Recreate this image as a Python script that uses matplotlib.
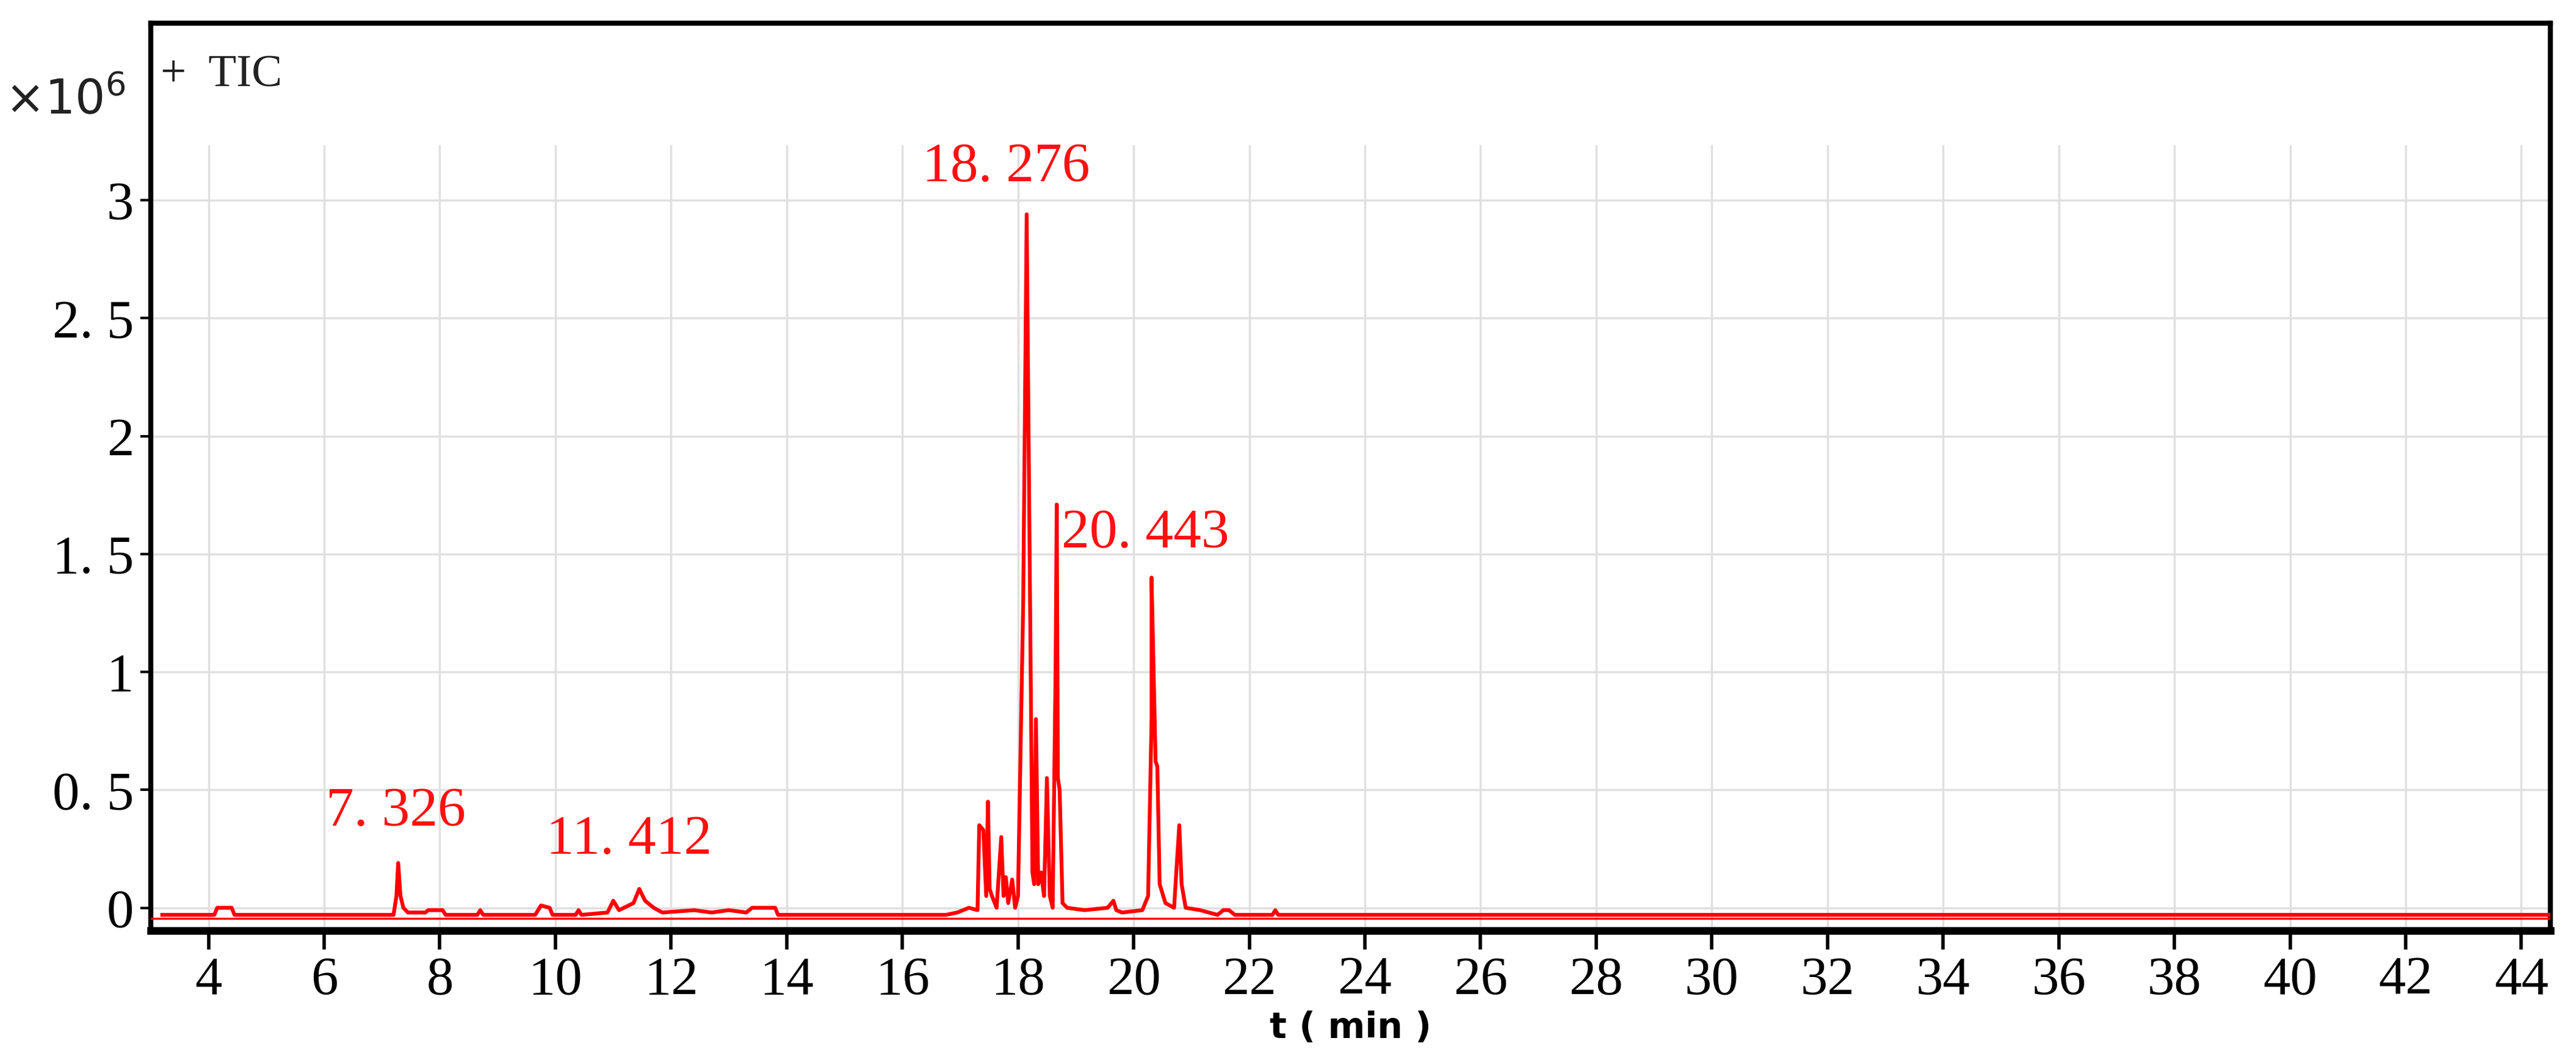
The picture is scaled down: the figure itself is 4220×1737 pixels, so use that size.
import matplotlib
matplotlib.use("Agg")
import matplotlib.pyplot as plt

# retention time (min) and intensity (x10^6) of trace vertices
t_pts = [3.2, 4.10, 4.15, 4.40, 4.45, 7.20, 7.25, 7.28, 7.32, 7.37, 7.45, 7.75, 7.80, 8.05, 8.10,
         8.65, 8.70, 8.75, 9.65, 9.75, 9.90, 9.95, 10.35, 10.40, 10.45, 10.90, 11.00, 11.10, 11.35,
         11.45, 11.55, 11.70, 11.85, 12.40, 12.70, 13.00, 13.30, 13.40, 13.80, 13.85,
         16.75, 16.95, 17.15, 17.30, 17.33, 17.40, 17.45, 17.48, 17.51, 17.55, 17.63, 17.71, 17.75,
         17.79, 17.83, 17.90, 17.95, 18.00, 18.09, 18.15, 18.25, 18.28, 18.31, 18.35, 18.40, 18.45,
         18.50, 18.55, 18.60, 18.65, 18.67, 18.69, 18.72, 18.77, 18.85, 19.15, 19.55, 19.65, 19.70,
         19.80, 20.15, 20.25, 20.31, 20.31, 20.38, 20.41, 20.45, 20.55, 20.70, 20.75, 20.79, 20.83,
         20.90, 21.15, 21.45, 21.55, 21.65, 21.75, 22.40, 22.45, 22.50, 44.5]
y_pts = [-0.03, -0.03, 0.0, 0.0, -0.03, -0.03, 0.05, 0.19, 0.05, 0.0, -0.02, -0.02, -0.01, -0.01, -0.03,
         -0.03, -0.01, -0.03, -0.03, 0.01, 0.0, -0.03, -0.03, -0.01, -0.03, -0.02, 0.03, -0.01, 0.02,
         0.08, 0.03, 0.0, -0.02, -0.01, -0.02, -0.01, -0.02, 0.0, 0.0, -0.03,
         -0.03, -0.02, 0.0, -0.01, 0.35, 0.33, 0.05, 0.45, 0.08, 0.05, 0.0, 0.30, 0.05,
         0.13, 0.02, 0.12, 0.0, 0.05, 1.30, 2.94, 0.15, 0.10, 0.80, 0.10, 0.15, 0.05,
         0.55, 0.05, 0.0, 1.00, 1.71, 0.55, 0.50, 0.02, 0.0, -0.01, 0.0, 0.03, -0.01,
         -0.02, -0.01, 0.05, 0.80, 1.40, 0.62, 0.60, 0.10, 0.02, 0.0, 0.20, 0.35, 0.10,
         0.0, -0.01, -0.03, -0.01, -0.01, -0.03, -0.03, -0.01, -0.03, -0.03]

peak_labels = ["7. 326", "11. 412", "18. 276", "20. 443"]
label_x = [7.24, 11.27, 17.8, 20.2]
label_y = [0.30, 0.18, 3.03, 1.48]

xticks = list(range(4, 45, 2))
yticks = [0, 0.5, 1, 1.5, 2, 2.5, 3]
ytick_labels = ["0", "0. 5", "1", "1. 5", "2", "2. 5", "3"]

serif = "Liberation Serif"
fig = plt.figure(figsize=(42.2, 17.37), dpi=100)
ax = fig.add_axes([0.0585, 0.122, 0.9315, 0.856])
ax.set_xlim(3.0, 44.5)
ax.set_ylim(-0.097, 3.75)

for x in xticks:
    ax.plot([x, x], [-0.097, 3.23], color="#e0e0e0", lw=2.5, zorder=0)
for y in yticks:
    ax.axhline(y, color="#e0e0e0", lw=2.5, zorder=0)

ax.plot(t_pts, y_pts, color="#ff0000", lw=4.5, zorder=3)
ax.axhline(-0.045, color="#ff0000", lw=2.5, zorder=3)

for s, x, y in zip(peak_labels, label_x, label_y):
    ax.text(x, y, s, color="#ff1010", fontsize=66, family=serif, ha="center", va="bottom", zorder=4)

ax.set_xticks(xticks)
ax.set_xticklabels([str(v) for v in xticks], fontsize=64, family=serif)
ax.set_yticks(yticks)
ax.set_yticklabels(ytick_labels, fontsize=64, family=serif)
ax.tick_params(axis="x", direction="out", length=22, width=4, pad=8)
ax.tick_params(axis="y", direction="out", length=12, width=3, pad=8)
for sp in ax.spines.values():
    sp.set_linewidth(6)
ax.spines["bottom"].set_linewidth(9)

ax.text(0.004, 0.965, "+  TIC", transform=ax.transAxes, fontsize=54, family=serif,
        ha="left", va="top", color="#222222")
fig.text(0.002, 0.905, r"$\times10^6$", fontsize=56, ha="left", va="center", color="#222222")
ax.set_xlabel("t ( min )", fontsize=42, fontweight="bold", labelpad=6)

fig.savefig("out.png", dpi=100)
